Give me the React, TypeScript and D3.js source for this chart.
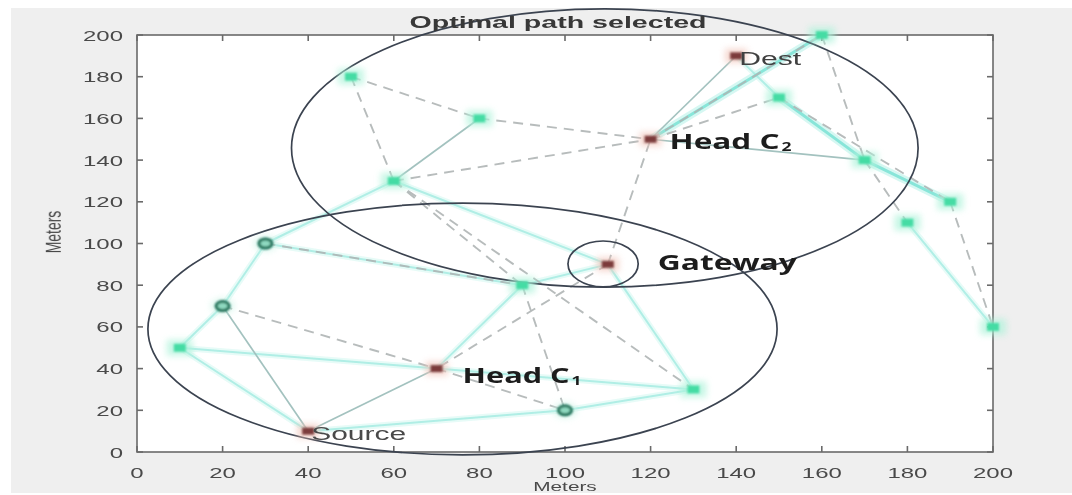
import React from 'react';
import * as d3 from 'd3';

// ---- data (metres) ----
const headNodes = [
  { id: 'src', x: 40, y: 10 },
  { id: 'h1', x: 70, y: 40 },
  { id: 'gw', x: 110, y: 90 },
  { id: 'h2', x: 120, y: 150 },
  { id: 'dst', x: 140, y: 190 },
];
const ringNodes = [
  { id: 'g1', x: 30, y: 100 },
  { id: 'g2', x: 20, y: 70 },
  { id: 'g3', x: 100, y: 20 },
];
const dotNodes = [
  { id: 'n1', x: 10, y: 50 },
  { id: 'n2', x: 90, y: 80 },
  { id: 'n3', x: 130, y: 30 },
  { id: 'n4', x: 60, y: 130 },
  { id: 'n5', x: 50, y: 180 },
  { id: 'n6', x: 80, y: 160 },
  { id: 'n7', x: 160, y: 200 },
  { id: 'n8', x: 150, y: 170 },
  { id: 'n9', x: 170, y: 140 },
  { id: 'n10', x: 190, y: 120 },
  { id: 'n11', x: 180, y: 110 },
  { id: 'n12', x: 200, y: 60 },
];
const cyanEdges = [
  ['g1', 'g2'], ['g2', 'n1'], ['n1', 'h1'], ['n1', 'src'], ['g3', 'n3'], ['h1', 'n3'],
  ['src', 'g3'], ['h1', 'n2'], ['n4', 'g1'], ['n4', 'gw'], ['gw', 'n3'], ['n2', 'gw'],
  ['g1', 'n2'], ['dst', 'n8'], ['n11', 'n12'],
];
const thickEdges = [['n7', 'h2'], ['n8', 'n9'], ['n9', 'n10']];
const greyEdges = [['src', 'h1'], ['g2', 'src'], ['n6', 'n4'], ['h2', 'dst'], ['h2', 'n9']];
const dashedEdges = [
  ['g2', 'h1'], ['g1', 'n2'], ['n4', 'n2'], ['n4', 'n3'], ['n2', 'g3'], ['gw', 'h1'],
  ['gw', 'h2'], ['h1', 'g3'], ['n5', 'n6'], ['n5', 'n4'], ['n6', 'h2'], ['n4', 'h2'],
  ['h2', 'n8'], ['h2', 'n7'], ['n7', 'n9'], ['n9', 'n11'], ['n10', 'n12'], ['n8', 'n10'],
];
const clusterZones = [
  { cx: 109.3, cy: 145.8, rx: 73.2, ry: 66.7 },
  { cx: 76.05, cy: 59.0, rx: 73.5, ry: 60.4 },
  { cx: 108.9, cy: 90.2, rx: 8.2, ry: 11.0 },
];
const xTicks = [0, 20, 40, 60, 80, 100, 120, 140, 160, 180, 200];
const yTicks = [0, 20, 40, 60, 80, 100, 120, 140, 160, 180, 200];
const titleText = 'Optimal path selected';
const axisLabel = 'Meters';

const W = 1072;
const H = 495;
const x = d3.scaleLinear().domain([0, 200]).range([137, 993]);
const y = d3.scaleLinear().domain([0, 200]).range([452, 35]);

const allNodes = [...headNodes, ...ringNodes, ...dotNodes];
const pos = (id: string) => {
  const n = allNodes.find((d) => d.id === id)!;
  return [x(n.x), y(n.y)];
};

function Edge({ e, stroke, width, dash, opacity }: any) {
  const [x1, y1] = pos(e[0]);
  const [x2, y2] = pos(e[1]);
  return (
    <line x1={x1} y1={y1} x2={x2} y2={y2} stroke={stroke} strokeWidth={width}
      strokeDasharray={dash} opacity={opacity} strokeLinecap="butt" />
  );
}

const SX = 1.6;

export default function App() {
  const tickFont = 'Liberation Sans, Arial, sans-serif';
  return (
    <svg width={W} height={H} style={{ position: 'absolute', left: 0, top: 0, display: 'block' }}>
      <defs>
        <filter id="glow" x="-100%" y="-100%" width="300%" height="300%">
          <feGaussianBlur stdDeviation="3" />
        </filter>
        <filter id="soft" x="-50%" y="-50%" width="200%" height="200%">
          <feGaussianBlur stdDeviation="1" />
        </filter>
        <filter id="lsoft" x="-5%" y="-5%" width="110%" height="110%">
          <feGaussianBlur stdDeviation="0.7" />
        </filter>
      </defs>
      <rect x={0} y={0} width={W} height={H} fill="#ffffff" />
      <rect x={11} y={8} width={W - 11} height={485} fill="#efefef" />
      <rect x={x(0)} y={y(200)} width={x(200) - x(0)} height={y(0) - y(200)} fill="#ffffff" />

      {/* edges */}
      <g filter="url(#lsoft)">
        {cyanEdges.map((e, i) => <Edge key={'cg' + i} e={e} stroke="#e2faf6" width={6} opacity={0.8} />)}
        {thickEdges.map((e, i) => <Edge key={'tg' + i} e={e} stroke="#d2f7f1" width={8} opacity={0.9} />)}
        {cyanEdges.map((e, i) => <Edge key={'c' + i} e={e} stroke="#a3ebe2" width={2} opacity={0.8} />)}
        {thickEdges.map((e, i) => <Edge key={'t' + i} e={e} stroke="#80e4d6" width={3} opacity={0.9} />)}
        {greyEdges.map((e, i) => <Edge key={'g' + i} e={e} stroke="#a3c2bf" width={1.7} />)}
        {dashedEdges.map((e, i) => <Edge key={'d' + i} e={e} stroke="#b0b5b5" width={1.9} dash="10 7" opacity={0.9} />)}
      </g>

      {/* axes box and ticks */}
      <g stroke="#6a6a6a" strokeWidth={1.6} fill="none">
        <rect x={x(0)} y={y(200)} width={x(200) - x(0)} height={y(0) - y(200)} />
        {xTicks.map((t) => (
          <g key={'xt' + t}>
            <line x1={x(t)} x2={x(t)} y1={y(0)} y2={y(0) - 6} />
            <line x1={x(t)} x2={x(t)} y1={y(200)} y2={y(200) + 6} />
          </g>
        ))}
        {yTicks.map((t) => (
          <g key={'yt' + t}>
            <line x1={x(0)} x2={x(0) + 6} y1={y(t)} y2={y(t)} />
            <line x1={x(200)} x2={x(200) - 6} y1={y(t)} y2={y(t)} />
          </g>
        ))}
      </g>

      {/* tick labels */}
      <g fill="#4a4a4a" fontFamily={tickFont} fontSize={15} filter="url(#lsoft)">
        {xTicks.map((t) => (
          <text key={'xl' + t} textAnchor="middle" transform={`translate(${x(t)},${478}) scale(${SX},1)`}>{t}</text>
        ))}
        {yTicks.map((t) => (
          <text key={'yl' + t} textAnchor="end" transform={`translate(${123},${y(t) + 5.5}) scale(${SX},1)`}>{t}</text>
        ))}
        <text textAnchor="middle" transform={`translate(${x(100)},${491}) scale(${SX},1)`} fontSize={13}>{axisLabel}</text>
        <text textAnchor="middle" transform={`translate(${61},${232}) scale(${SX},1) rotate(-90)`} fontSize={14}>{axisLabel}</text>
      </g>

      {/* cluster zones */}
      <g fill="none" stroke="#3b4350" strokeWidth={1.7}>
        {clusterZones.map((z, i) => (
          <ellipse key={'z' + i} cx={x(z.cx)} cy={y(z.cy)} rx={x(z.rx) - x(0)} ry={y(0) - y(z.ry)} />
        ))}
      </g>

      {/* title */}
      <text x={x(100) - 7} y={28} textAnchor="middle" fontFamily={tickFont} fontWeight="bold" fontSize={16}
        fill="#383838" textLength={297} lengthAdjust="spacingAndGlyphs" filter="url(#lsoft)">{titleText}</text>

      {/* nodes */}
      {dotNodes.map((n) => (
        <g key={n.id}>
          <rect x={x(n.x) - 13} y={y(n.y) - 8} width={26} height={16} fill="#aef3da" opacity={0.7} filter="url(#glow)" />
          <rect x={x(n.x) - 6} y={y(n.y) - 4} width={12} height={8} fill="#45dca4" filter="url(#soft)" />
        </g>
      ))}
      {ringNodes.map((n) => (
        <g key={n.id}>
          <ellipse cx={x(n.x)} cy={y(n.y)} rx={12} ry={8} fill="#c5f3e3" opacity={0.6} filter="url(#glow)" />
          <ellipse cx={x(n.x)} cy={y(n.y)} rx={6.5} ry={4.5} fill="#8fd9c0" stroke="#1d6f57" strokeWidth={3} filter="url(#soft)" />
        </g>
      ))}
      {headNodes.map((n) => (
        <g key={n.id}>
          <rect x={x(n.x) - 11} y={y(n.y) - 7} width={22} height={14} fill="#f2c6bb" opacity={0.7} filter="url(#glow)" />
          <rect x={x(n.x) - 6} y={y(n.y) - 3.5} width={12} height={7} fill="#7b3a3a" filter="url(#soft)" />
        </g>
      ))}

      {/* node labels */}
      <g filter="url(#lsoft)">
        <text x={x(40) + 3} y={y(10) + 9} fontFamily={tickFont} fontSize={18} fill="#4a4a4a"
          textLength={95} lengthAdjust="spacingAndGlyphs">Source</text>
        <text x={x(140) + 3} y={y(190) + 9} fontFamily={tickFont} fontSize={18} fill="#404040"
          textLength={62} lengthAdjust="spacingAndGlyphs">Dest</text>
        <g fontFamily="Open Sans, DejaVu Sans, sans-serif" fontWeight="bold" fill="#1c1c1c">
          <text x={x(110) + 50} y={y(90) + 6} fontSize={21} textLength={139} lengthAdjust="spacingAndGlyphs">Gateway</text>
          <text x={x(120) + 19} y={y(150) + 10} fontSize={21} textLength={110} lengthAdjust="spacingAndGlyphs">Head C</text>
          <text x={x(120) + 131} y={y(150) + 12} fontSize={12} textLength={10} lengthAdjust="spacingAndGlyphs">2</text>
          <text x={x(70) + 26} y={y(40) + 14} fontSize={21} textLength={107} lengthAdjust="spacingAndGlyphs">Head C</text>
          <text x={x(70) + 135} y={y(40) + 16} fontSize={12} textLength={10} lengthAdjust="spacingAndGlyphs">1</text>
        </g>
      </g>
    </svg>
  );
}
